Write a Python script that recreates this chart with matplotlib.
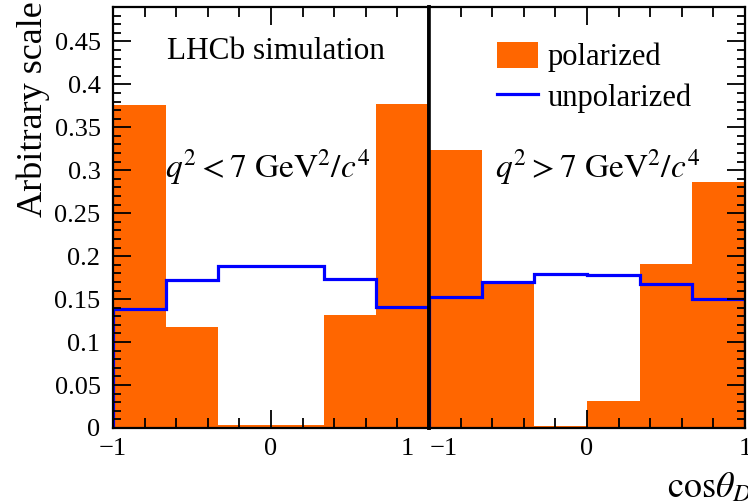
import matplotlib
matplotlib.use("Agg")
import matplotlib.pyplot as plt
import matplotlib.transforms as mtrans
from matplotlib.patches import Patch
from matplotlib.lines import Line2D
import numpy as np

# ---- data ----
edges = [-1, -2/3, -1/3, 0, 1/3, 2/3, 1]

pol_low = [0.376, 0.118, 0.004, 0.003, 0.131, 0.377]
unpol_low = [0.138, 0.172, 0.189, 0.189, 0.173, 0.141]

pol_high = [0.324, 0.169, 0.002, 0.031, 0.191, 0.286]
unpol_high = [0.153, 0.170, 0.179, 0.178, 0.168, 0.150]

labels = ["polarized", "unpolarized"]
titles = [r"$q^2 < 7\ \mathrm{GeV}^2/c^4$", r"$q^2 > 7\ \mathrm{GeV}^2/c^4$"]

ORANGE = "#ff6600"
BLUE = "#0000ff"

plt.rcParams["font.family"] = ["Liberation Serif", "DejaVu Serif"]
plt.rcParams["mathtext.fontset"] = "stix"

fig = plt.figure(figsize=(7.48, 5.04), dpi=100)
W, H = 748.0, 504.0
ax1 = fig.add_axes([113 / W, 76 / H, 316 / W, 421 / H])
ax2 = fig.add_axes([429 / W, 76 / H, 316 / W, 421 / H])


def draw(ax, pol, unpol):
    e = np.array(edges)
    ax.bar(e[:-1], pol, width=np.diff(e), align="edge", color=ORANGE, linewidth=0)
    ax.stairs(unpol, e, baseline=0, color=BLUE, linewidth=2.3)
    ax.set_xlim(-1, 1)
    ax.set_ylim(0, 0.49)
    for s in ax.spines.values():
        s.set_linewidth(1.6)
    ax.set_xticks([-1, 0, 1])
    ax.set_xticks(np.arange(-1, 1.01, 0.2), minor=True)
    ax.set_yticks(np.arange(0, 0.46, 0.05))
    ax.set_yticks(np.arange(0, 0.49, 0.01), minor=True)
    ax.tick_params(which="both", direction="in", top=True, bottom=True,
                   labelsize=19, width=1.3, pad=7)
    ax.tick_params(axis="x", which="major", length=13)
    ax.tick_params(axis="x", which="minor", length=7)
    ax.tick_params(axis="y", which="major", length=13)
    ax.tick_params(axis="y", which="minor", length=6)


draw(ax1, pol_low, unpol_low)
draw(ax2, pol_high, unpol_high)
ax1.spines["right"].set_linewidth(2.6)
ax2.spines["left"].set_linewidth(2.6)

ax1.tick_params(axis="y", which="both", left=True, right=False, pad=9)
ax1.set_yticklabels(["0", "0.05", "0.1", "0.15", "0.2", "0.25", "0.3", "0.35", "0.4", "0.45"])
ax2.tick_params(axis="y", which="both", left=False, right=True, labelleft=False)

ax1.set_xticklabels(["\u22121", "0", "1"])
ax2.set_xticklabels(["\u22121", "0", "1"])

# shift the touching labels apart (like ROOT does)
lab = ax1.get_xticklabels()[2]
lab.set_transform(lab.get_transform() + mtrans.ScaledTranslation(-0.22, 0, fig.dpi_scale_trans))
lab = ax2.get_xticklabels()[0]
lab.set_transform(lab.get_transform() + mtrans.ScaledTranslation(0.15, 0, fig.dpi_scale_trans))

ax1.set_ylabel("Arbitrary scale", fontsize=26, loc="top")
ax1.yaxis.set_label_coords(-0.2, 1.014)

ax1.text(0.516, 0.895, "LHCb simulation", transform=ax1.transAxes,
         ha="center", va="center", fontsize=22.5)
ax1.text(0.49, 0.596, titles[0], transform=ax1.transAxes,
         ha="center", va="baseline", fontsize=24)
ax2.text(0.532, 0.596, titles[1], transform=ax2.transAxes,
         ha="center", va="baseline", fontsize=24)

handles = [Patch(facecolor=ORANGE, edgecolor="none"),
           Line2D([], [], color=BLUE, linewidth=2.3)]
ax2.legend(handles, labels, loc="upper left", bbox_to_anchor=(0.215, 0.918),
           frameon=False, fontsize=22, handlelength=1.34, handleheight=0.95,
           handletextpad=0.33, labelspacing=0.32, borderpad=0, borderaxespad=0)

fig.text(1.006, 0.014, r"$\mathrm{cos}\theta_D$", ha="right", va="baseline", fontsize=26)

fig.savefig("out.png", dpi=100)
